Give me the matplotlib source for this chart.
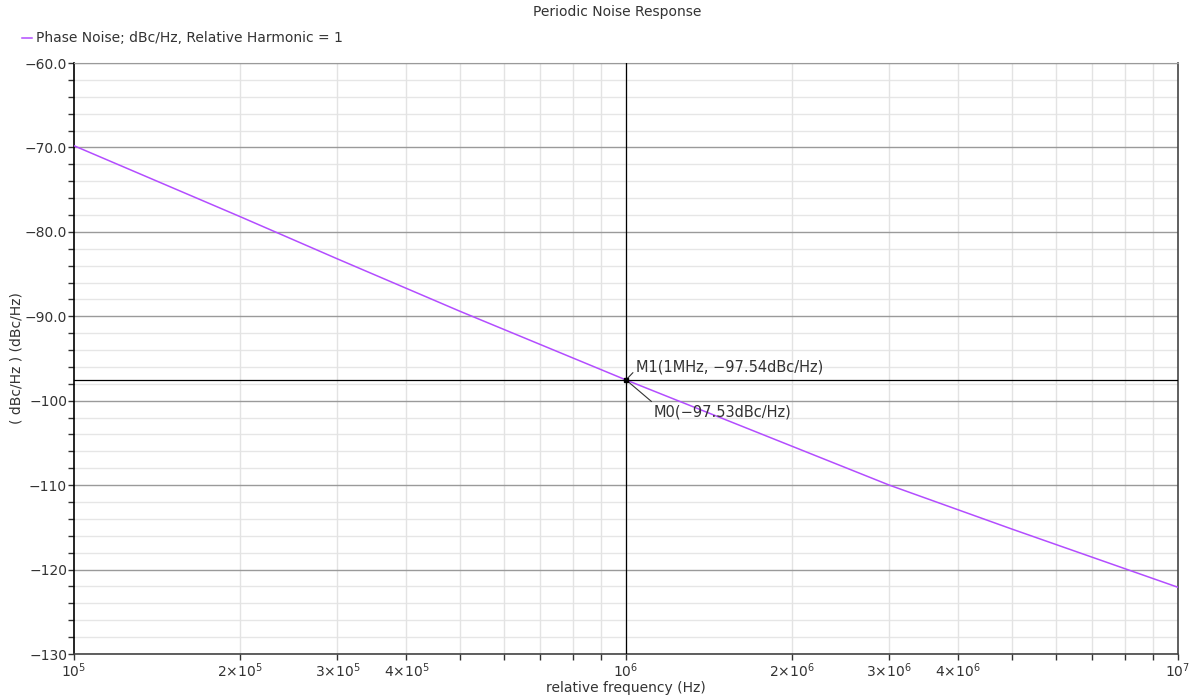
import matplotlib
matplotlib.use("Agg")
from matplotlib import pyplot as plt
import numpy as np

# data
freq = [1e5, 2e5, 3e5, 5e5, 1e6, 2e6, 3e6, 5e6, 1e7]
phase_noise = [-69.8, -78.2, -83.2, -89.4, -97.54, -105.4, -110.0, -115.2, -122.1]
marker_f = 1e6
marker_m1 = -97.54
marker_m0 = -97.53

x_ticks = [1e5, 2e5, 3e5, 4e5, 5e5, 6e5, 7e5, 8e5, 9e5,
           1e6, 2e6, 3e6, 4e6, 5e6, 6e6, 7e6, 8e6, 9e6, 1e7]
x_labels = ["10$^{5}$", "2×10$^{5}$", "3×10$^{5}$", "4×10$^{5}$", "", "", "", "", "",
            "10$^{6}$", "2×10$^{6}$", "3×10$^{6}$", "4×10$^{6}$", "", "", "", "", "",
            "10$^{7}$"]
y_major = [-60, -70, -80, -90, -100, -110, -120, -130]
y_labels = ["−60.0", "−70.0", "−80.0", "−90.0", "−100", "−110", "−120", "−130"]

txt = "#333333"
line_color = "#b34dff"
plt.rcParams["font.family"] = ["DejaVu Sans"]
plt.rcParams["mathtext.fontset"] = "dejavusans"
fs = 10

fig = plt.figure(figsize=(12.03, 6.96), dpi=100)
ax = fig.add_axes([74 / 1203, 1 - 654 / 696, (1178 - 74) / 1203, (654 - 63) / 696])

# grid
for y in np.arange(-130, -59, 2):
    if y % 10 == 0:
        ax.axhline(y, color="#9a9a9a", lw=1.0, zorder=1)
    else:
        ax.axhline(y, color="#e6e6e6", lw=1.0, zorder=0)
for xv in x_ticks[1:-1]:
    ax.axvline(xv, color="#e3e3e3", lw=1.0, zorder=0)

ax.plot(freq, phase_noise, color=line_color, lw=1.1, zorder=3)

# marker cross-hairs
ax.axvline(marker_f, color="black", lw=0.9, zorder=4)
ax.axhline(marker_m1, color="black", lw=0.9, zorder=4)
ax.plot([marker_f], [marker_m1], "s", color="black", ms=3.5, zorder=5)
ax.annotate("M1(1MHz, −97.54dBc/Hz)", xy=(marker_f, marker_m1), xytext=(7, 9),
            textcoords="offset points", ha="left", va="center", color=txt, fontsize=10.5,
            arrowprops=dict(arrowstyle="-", color="#333333", lw=0.8, shrinkA=0, shrinkB=0,
                            relpos=(0, 0.35)))
ax.annotate("M0(−97.53dBc/Hz)", xy=(marker_f, marker_m0), xytext=(20, -23),
            textcoords="offset points", ha="left", va="center", color=txt, fontsize=10.5,
            arrowprops=dict(arrowstyle="-", color="#333333", lw=0.8, shrinkA=0, shrinkB=0,
                            relpos=(0.02, 0.9)))

ax.set_xscale("log")
ax.set_xlim(1e5, 1e7)
ax.set_ylim(-130, -60)
ax.set_xticks(x_ticks)
ax.set_xticklabels(x_labels, color=txt, fontsize=fs)
ax.xaxis.set_minor_locator(matplotlib.ticker.NullLocator())
ax.set_yticks(np.arange(-130, -59, 2), minor=True)
ax.set_yticks(y_major)
ax.set_yticklabels(y_labels, color=txt, fontsize=fs)
ax.tick_params(axis="both", which="both", direction="out", length=4, width=1, color="#333333")
ax.tick_params(axis="x", pad=1)
ax.tick_params(axis="y", pad=1)

for side in ["left", "bottom", "right"]:
    ax.spines[side].set_color("#444444")
    ax.spines[side].set_linewidth(1.2)
ax.spines["top"].set_color("#9a9a9a")
ax.spines["left"].set_color("black")

ax.set_xlabel("relative frequency (Hz)", color=txt, fontsize=fs)
ax.xaxis.set_label_coords(0.5, -(681 - 654) / 591)
ax.set_ylabel("( dBc/Hz ) (dBc/Hz)", color=txt, fontsize=fs)
ax.yaxis.set_label_coords(-(74 - 24) / 1104, 0.5)

fig.text(617 / 1203, 1 - 12 / 696, "Periodic Noise Response", ha="center", va="center",
         color=txt, fontsize=fs)
fig.lines.append(plt.Line2D([22 / 1203, 32 / 1203], [1 - 38 / 696, 1 - 38 / 696],
                            color=line_color, lw=1.1, transform=fig.transFigure))
fig.text(36 / 1203, 1 - 38 / 696, "Phase Noise; dBc/Hz, Relative Harmonic = 1",
         ha="left", va="center", color=txt, fontsize=fs)

fig.savefig("out.png", dpi=100)
